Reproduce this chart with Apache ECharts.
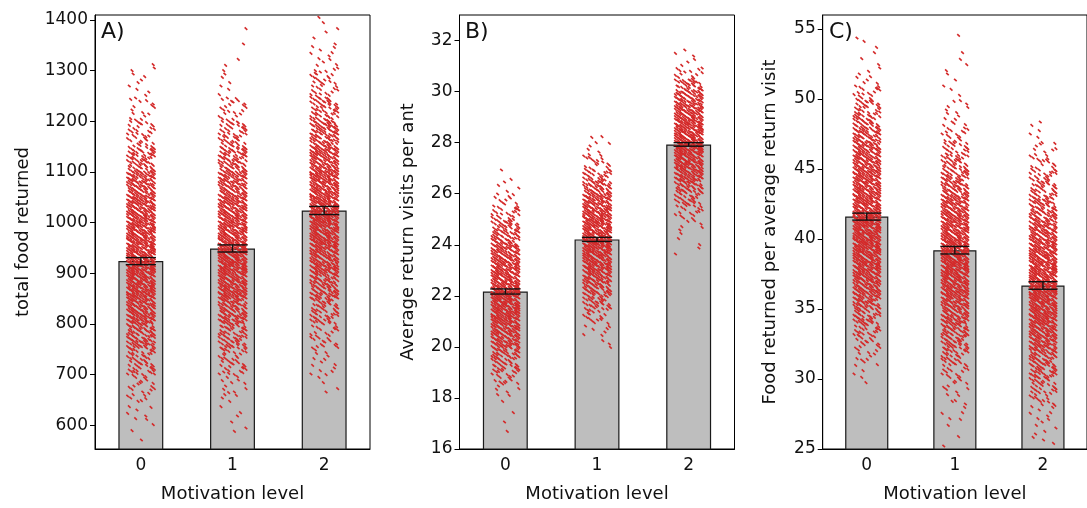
<!DOCTYPE html>
<html><head><meta charset="utf-8">
<script src="https://cdn.jsdelivr.net/npm/echarts@6/dist/echarts.min.js"></script>
<style>html,body{margin:0;padding:0;background:#fff}#c{width:1087px;height:508px}</style>
</head><body><div id="c"></div>
<script>
// ---------- data ----------
const categories = ['0', '1', '2'];
const meanA = [924, 949, 1024];
const errA = [7, 7, 8];
const meanB = [22.17, 24.21, 27.93];
const errB = [0.1, 0.08, 0.07];
const meanC = [41.6, 39.2, 36.68];
const errC = [0.25, 0.27, 0.27];
const ticksA = [600, 700, 800, 900, 1000, 1100, 1200, 1300, 1400];
const ticksB = [16, 18, 20, 22, 24, 26, 28, 30, 32];
const ticksC = [25, 30, 35, 40, 45, 50, 55];
const titleA = 'total food returned';
const titleB = 'Average return visits per ant';
const titleC = 'Food returned per average return visit';
const xTitle = 'Motivation level';
// density of the jittered points per value band: [low, high, relative density]
const cloudA0 = [[553,600,0.015],[600,650,0.06],[650,700,0.14],[700,750,0.3],[750,800,0.55],[800,850,0.78],[850,900,0.92],[900,950,1],[950,1000,0.95],[1000,1050,0.85],[1050,1100,0.68],[1100,1150,0.42],[1150,1200,0.22],[1200,1250,0.1],[1250,1315,0.05]];
const cloudA1 = [[585,650,0.03],[650,700,0.09],[700,750,0.22],[750,800,0.4],[800,850,0.62],[850,900,0.85],[900,950,1],[950,1000,0.95],[1000,1050,0.85],[1050,1100,0.68],[1100,1150,0.5],[1150,1200,0.3],[1200,1250,0.15],[1250,1310,0.04],[1310,1400,0.01]];
const cloudA2 = [[665,700,0.03],[700,750,0.08],[750,800,0.17],[800,850,0.36],[850,900,0.58],[900,950,0.78],[950,1000,0.92],[1000,1050,1],[1050,1100,0.92],[1100,1150,0.78],[1150,1200,0.58],[1200,1250,0.36],[1250,1300,0.19],[1300,1350,0.08],[1350,1410,0.03]];
const cloudB0 = [[16.6,18,0.015],[18,18.5,0.08],[18.5,19,0.18],[19,19.5,0.34],[19.5,20,0.52],[20,20.5,0.7],[20.5,21,0.85],[21,21.5,0.95],[21.5,22,1],[22,22.5,1],[22.5,23,0.95],[23,23.5,0.88],[23.5,24,0.75],[24,24.5,0.58],[24.5,25,0.42],[25,25.5,0.26],[25.5,26,0.13],[26,26.5,0.05],[26.5,27.1,0.015]];
const cloudB1 = [[19.8,20.5,0.04],[20.5,21,0.09],[21,21.5,0.2],[21.5,22,0.38],[22,22.5,0.58],[22.5,23,0.75],[23,23.5,0.88],[23.5,24,0.97],[24,24.5,1],[24.5,25,1],[25,25.5,0.92],[25.5,26,0.78],[26,26.5,0.58],[26.5,27,0.36],[27,27.5,0.18],[27.5,28.3,0.06]];
const cloudB2 = [[23.5,24.5,0.03],[24.5,25,0.08],[25,25.5,0.17],[25.5,26,0.32],[26,26.5,0.52],[26.5,27,0.74],[27,27.5,0.9],[27.5,28,1],[28,28.5,1],[28.5,29,0.95],[29,29.5,0.85],[29.5,30,0.68],[30,30.5,0.42],[30.5,31,0.17],[31,31.7,0.05]];
const cloudC0 = [[29.5,31,0.04],[31,32,0.1],[32,33,0.17],[33,34,0.27],[34,35,0.42],[35,36,0.58],[36,37,0.74],[37,38,0.85],[38,39,0.92],[39,40,1],[40,41,1],[41,42,1],[42,43,0.95],[43,44,0.9],[44,45,0.85],[45,46,0.8],[46,47,0.7],[47,48,0.58],[48,49,0.42],[49,50,0.3],[50,51,0.18],[51,52,0.08],[52,54.6,0.03]];
const cloudC1 = [[25.2,27,0.015],[27,28,0.05],[28,29,0.06],[29,30,0.1],[30,31,0.17],[31,32,0.27],[32,33,0.42],[33,34,0.53],[34,35,0.64],[35,36,0.75],[36,37,0.85],[37,38,0.92],[38,39,1],[39,40,1],[40,41,0.92],[41,42,0.85],[42,43,0.76],[43,44,0.6],[44,45,0.47],[45,46,0.36],[46,47,0.26],[47,48,0.17],[48,50,0.08],[50,53,0.03],[53,55,0.01]];
const cloudC2 = [[25.3,27,0.05],[27,28,0.08],[28,29,0.17],[29,30,0.27],[30,31,0.42],[31,32,0.53],[32,33,0.68],[33,34,0.8],[34,35,0.9],[35,36,0.95],[36,37,1],[37,38,1],[38,39,0.95],[39,40,0.85],[40,41,0.74],[41,42,0.6],[42,43,0.48],[43,44,0.37],[44,45,0.27],[45,46,0.17],[46,47,0.1],[47,48.4,0.04]];

// ---------- style ----------
const FONT = 'DejaVu Sans';
const RED = '#d42a2a';
const INK = '#111';
const MAXPERROW = 13;
const ROWSTEP = 2;
// fixed horizontal slots used to lay dashes inside a row (style, not data)
const SLOTS = [0.52,0.08,0.79,0.31,0.95,0.18,0.64,0.40,0.87,0.02,0.71,0.25,0.57,0.13,0.90,0.36,0.68,0.47,0.99,0.22];

function cloudItems(bins, cat) { return bins.map(b => [cat, b[0], b[1], b[2]]); }

function cloudRender(params, api) {
  const cat = api.value(0), lo = api.value(1), hi = api.value(2), d = api.value(3);
  const top = api.coord([cat, hi]), bot = api.coord([cat, lo]);
  const band = api.size([1, 0])[0];
  const half = band * 0.15;
  const cx = top[0];
  const children = [];
  let acc = 0.5;
  const y0 = Math.ceil(top[1] / ROWSTEP) * ROWSTEP;
  for (let y = y0; y < bot[1]; y += ROWSTEP) {
    acc += d * MAXPERROW;
    const n = Math.floor(acc); acc -= n;
    const r = Math.round(y / ROWSTEP);
    for (let k = 0; k < n; k++) {
      const f = SLOTS[(r * 7 + k * 3) % SLOTS.length];
      const x = cx - half + f * 2 * half;
      const yy = y + ((k + r) % 3 - 1) * 0.6;
      children.push({ type: 'line', shape: { x1: x - 1.3, y1: yy - 1.2, x2: x + 1.3, y2: yy + 1.2 },
        style: { stroke: RED, lineWidth: 1.6 } });
    }
  }
  return { type: 'group', children };
}

function errRender(params, api) {
  const cat = api.value(0), m = api.value(1), e = api.value(2);
  const hp = api.coord([cat, m + e]), lp = api.coord([cat, m - e]);
  const band = api.size([1, 0])[0];
  const cw = band * 0.165;
  const x = hp[0];
  const st = { stroke: INK, lineWidth: 1.4 };
  return { type: 'group', children: [
    { type: 'line', shape: { x1: x, y1: hp[1], x2: x, y2: lp[1] }, style: st },
    { type: 'line', shape: { x1: x - cw, y1: hp[1], x2: x + cw, y2: hp[1] }, style: st },
    { type: 'line', shape: { x1: x - cw, y1: lp[1], x2: x + cw, y2: lp[1] }, style: st }
  ] };
}

const panels = [
  { left: 95, mean: meanA, err: errA, ticks: ticksA, min: 553, max: 1410, title: titleA, gap: 63, clouds: [cloudA0, cloudA1, cloudA2], letter: 'A)', lx: 101 },
  { left: 459.5, mean: meanB, err: errB, ticks: ticksB, min: 16, max: 33, title: titleB, gap: 42, clouds: [cloudB0, cloudB1, cloudB2], letter: 'B)', lx: 465 },
  { left: 822.7, mean: meanC, err: errC, ticks: ticksC, min: 25, max: 56, title: titleC, gap: 43, clouds: [cloudC0, cloudC1, cloudC2], letter: 'C)', lx: 829 }
];

const grid = [], xAxis = [], yAxis = [], series = [], graphic = [];
panels.forEach((p, i) => {
  grid.push({ left: p.left, top: 15, width: 275, height: 437, show: true, borderColor: '#000', borderWidth: 1, containLabel: false });
  xAxis.push({ type: 'category', gridIndex: i, data: categories,
    name: xTitle, nameLocation: 'middle', nameGap: 36,
    nameTextStyle: { fontFamily: FONT, fontSize: 18, color: INK },
    axisLine: { lineStyle: { color: '#000', width: 1 } },
    axisTick: { alignWithLabel: true, length: 5, lineStyle: { color: '#000' } },
    axisLabel: { fontFamily: FONT, fontSize: 17, color: INK, margin: 8 },
    splitLine: { show: false } });
  yAxis.push({ type: 'value', gridIndex: i, min: p.min, max: p.max,
    name: p.title, nameLocation: 'middle', nameGap: p.gap,
    nameTextStyle: { fontFamily: FONT, fontSize: 18, color: INK },
    axisLine: { show: true, lineStyle: { color: '#000', width: 1 } },
    axisTick: { show: true, length: 5, customValues: p.ticks, lineStyle: { color: '#000' } },
    axisLabel: { fontFamily: FONT, fontSize: 17, color: INK, margin: 7, customValues: p.ticks,
      formatter: v => String(v) },
    splitLine: { show: false } });
  series.push({ type: 'bar', xAxisIndex: i, yAxisIndex: i, data: p.mean, barWidth: '49%',
    itemStyle: { color: '#bebebe', borderColor: '#1a1a1a', borderWidth: 1.2 }, silent: true, z: 2 });
  const cloudData = [].concat(...p.clouds.map((c, k) => cloudItems(c, k)));
  series.push({ type: 'custom', xAxisIndex: i, yAxisIndex: i, data: cloudData, renderItem: cloudRender,
    encode: { x: 0, y: [1, 2] }, clip: true, silent: true, z: 3 });
  series.push({ type: 'custom', xAxisIndex: i, yAxisIndex: i,
    data: p.mean.map((m, k) => [k, m, p.err[k]]), renderItem: errRender,
    encode: { x: 0, y: 1 }, clip: true, silent: true, z: 4 });
  graphic.push({ type: 'text', left: p.lx, top: 21, z: 10,
    style: { text: p.letter, fontFamily: FONT, fontSize: 22, fill: INK } });
});

const chart = echarts.init(document.getElementById('c'), null, { renderer: 'canvas' });
chart.setOption({ animation: false, backgroundColor: '#fff', grid, xAxis, yAxis, series, graphic });
</script></body></html>
